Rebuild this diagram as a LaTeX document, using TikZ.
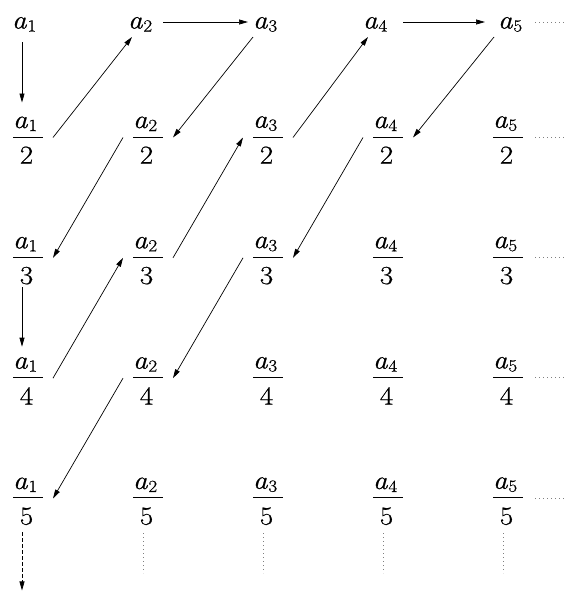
\documentclass[tikz,border=0pt]{standalone}
\usepackage{fontspec}
\setmainfont{Latin Modern Roman}[FakeBold=0.7,FakeStretch=1.12]
\usetikzlibrary{arrows.meta}
\newcommand{\av}[1]{\textit{a}\kern0.5pt\raisebox{-3pt}{\fontsize{17}{17}\selectfont #1}}
\newcommand{\fr}[2]{\hbox{\vbox{\hbox to 30pt{\av{#1}\hfil}\kern 5.5pt\hrule height 1pt}\kern-30pt\vtop{\kern 9pt\hbox to 30pt{\hfil #2\hfil\kern 3pt}}}}
\begin{document}
\begin{tikzpicture}[x=1pt,y=-1pt,
  every node/.style={inner sep=0pt,outer sep=0pt,anchor=base west,font=\rmfamily\fontsize{26}{30}\selectfont},
  arr/.style={-{Triangle[length=9pt,width=5pt]},line width=0.7pt},
  dotline/.style={gray,line width=0.8pt,dash pattern=on 0.8pt off 3.2pt}]
\useasboundingbox (0,0) rectangle (568,592);
% top row
\node (a1) at (12,28.5) {\av{1}};
\node (a2) at (128,28.5) {\av{2}};
\node (a3) at (253,28.5) {\av{3}};
\node (a4) at (363,28.5) {\av{4}};
\node (a5) at (498,28.5) {\av{5}};
% fractions
\foreach \i in {1,...,5}
  \foreach \j in {2,...,5}
    \node (f\i\j) at ({13+120*(\i-1)},{137.5+120.33*(\j-2)}) {\fr{\i}{\j}};
% arrows
\draw[arr] ([shift={(10,13.5)}]a1.base west) -- ([shift={(9,-35)}]f12.base west);
\draw[arr] ([xshift=10pt]f12.base east) -- ([shift={(4,8.5)}]a2.base west);
\draw[arr] ([shift={(35,-6.5)}]a2.base west) -- ([shift={(-5,-6.5)}]a3.base west);
\draw[arr] ([shift={(0,8.5)}]a3.base west) -- ([xshift=10pt]f22.base east);
\draw[arr] ([xshift=-10pt]f22.base west) -- ([xshift=10pt]f13.base east);
\draw[arr] ([shift={(9,29.5)}]f13.base west) -- ([shift={(9,-31.5)}]f14.base west);
\draw[arr] ([xshift=10pt]f14.base east) -- ([xshift=-10pt]f23.base west);
\draw[arr] ([xshift=10pt]f23.base east) -- ([xshift=-10pt]f32.base west);
\draw[arr] ([xshift=10pt]f32.base east) -- ([shift={(5,8.5)}]a4.base west);
\draw[arr] ([shift={(40,-6.5)}]a4.base west) -- ([shift={(-13,-6.5)}]a5.base west);
\draw[arr] ([shift={(-4,8.5)}]a5.base west) -- ([xshift=10pt]f42.base east);
\draw[arr] ([xshift=-10pt]f42.base west) -- ([xshift=10pt]f33.base east);
\draw[arr] ([xshift=-10pt]f33.base west) -- ([xshift=10pt]f24.base east);
\draw[arr] ([xshift=-10pt]f24.base west) -- ([xshift=10pt]f15.base east);
\draw[arr,dash pattern=on 3.5pt off 2.5pt] ([shift={(9,34)}]f15.base west) -- ([shift={(9,92)}]f15.base west);
% dotted continuations
\draw[dotline] ([shift={(37,-6.5)}]a5.base west) -- ++(31,0);
\foreach \j in {2,...,5}
  \draw[dotline] ([shift={(12,-0.5)}]f5\j.base east) -- ++(31,0);
\foreach \i in {2,...,5}
  \draw[dotline] ([shift={(10,35)}]f\i5.base west) -- ++(0,40);
\end{tikzpicture}
\end{document}
